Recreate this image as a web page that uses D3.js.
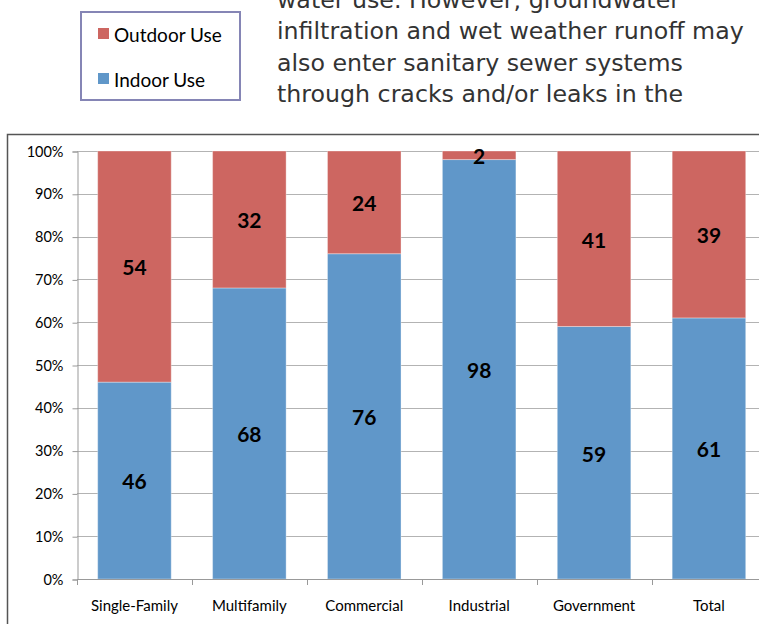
<!DOCTYPE html>
<meta charset="utf-8" />
<style>
  body { margin: 0; background: #fff; }
  svg { display: block; }
  .para { font-family: "DejaVu Sans", sans-serif; font-size: 23.7px; fill: #333; }
  .tick text { font-family: Lato, sans-serif; fill: #000; }
</style>
<body>
<script src="https://d3js.org/d3.v7.min.js"></script>
<script>

// data
var categories = ["Single-Family", "Multifamily", "Commercial", "Industrial", "Government", "Total"];
var indoor  = [46, 68, 76, 98, 59, 61];
var outdoor = [54, 32, 24, 2, 41, 39];
var yTicks  = [0, 10, 20, 30, 40, 50, 60, 70, 80, 90, 100];
var seriesNames = ["Outdoor Use", "Indoor Use"];
var paragraph = [
  "water use. However, groundwater",
  "infiltration and wet weather runoff may",
  "also enter sanitary sewer systems",
  "through cracks and/or leaks in the"
];

var W = 759, H = 624;
var colors = { indoor: "#6097c9", outdoor: "#cd6661" };

var svg = d3.select("body").append("svg")
    .attr("width", W)
    .attr("height", H);

// paragraph text above the chart (cut off at the top)
svg.append("g").selectAll("text")
    .data(paragraph)
    .enter().append("text")
    .attr("class", "para")
    .attr("x", 277)
    .attr("y", function(d, i) { return 8 + i * 31.3; })
    .text(function(d) { return d; });

// legend box
var legend = svg.append("g");
legend.append("rect")
    .attr("x", 81).attr("y", 12)
    .attr("width", 159).attr("height", 88)
    .attr("fill", "#fff")
    .attr("stroke", "#8585b5")
    .attr("stroke-width", 2);

var legendItems = legend.selectAll("g.item")
    .data(seriesNames)
    .enter().append("g")
    .attr("transform", function(d, i) { return "translate(98," + (28 + i * 45) + ")"; });
legendItems.append("rect")
    .attr("width", 11).attr("height", 11)
    .attr("fill", function(d, i) { return i == 0 ? colors.outdoor : colors.indoor; });
legendItems.append("text")
    .attr("x", 16).attr("y", 14)
    .style("font-family", "Lato, sans-serif")
    .style("font-size", "19px")
    .attr("fill", "#000")
    .text(function(d) { return d; });

// chart frame
svg.append("rect")
    .attr("x", 7.5).attr("y", 134.5)
    .attr("width", W + 20).attr("height", H)
    .attr("fill", "none")
    .attr("stroke", "#555")
    .attr("stroke-width", 1.5);

// scales
var plotLeft = 77, plotTop = 151, plotBottom = 579;
var step = 114.9;
var x = d3.scaleBand()
    .domain(categories)
    .range([plotLeft, plotLeft + step * categories.length])
    .paddingInner(0.36)
    .paddingOuter(0.18);
var y = d3.scaleLinear().domain([0, 100]).range([plotBottom, plotTop]);

// gridlines
svg.append("g").selectAll("line")
    .data(yTicks)
    .enter().append("line")
    .attr("x1", plotLeft).attr("x2", W)
    .attr("y1", function(d) { return Math.round(y(d)) + 0.5; })
    .attr("y2", function(d) { return Math.round(y(d)) + 0.5; })
    .attr("stroke", "#b3b3b3");

// y axis
var yAxis = svg.append("g")
    .attr("transform", "translate(" + (plotLeft + 0.5) + ",0.5)")
    .call(d3.axisLeft(y).tickValues(yTicks).tickSize(5).tickPadding(9)
        .tickFormat(function(d) { return d + "%"; }));
yAxis.selectAll("text").style("font-size", "14.5px");
yAxis.selectAll("line, path").attr("stroke", "#999");

// bars
var rows = categories.map(function(c, i) {
  return { cat: c, indoor: indoor[i], outdoor: outdoor[i] };
});
var stack = d3.stack().keys(["indoor", "outdoor"])(rows);

var layers = svg.append("g").selectAll("g")
    .data(stack)
    .enter().append("g")
    .attr("fill", function(d) { return colors[d.key]; });

layers.selectAll("rect")
    .data(function(d) { return d; })
    .enter().append("rect")
    .attr("x", function(d) { return x(d.data.cat); })
    .attr("width", x.bandwidth())
    .attr("y", function(d) { return y(d[1]); })
    .attr("height", function(d) { return y(d[0]) - y(d[1]); })
    .attr("stroke", "#fff")
    .attr("stroke-opacity", 0.35)
    .attr("stroke-width", 1);

// value labels
layers.selectAll("text")
    .data(function(d) { return d.map(function(p) { p.key = d.key; return p; }); })
    .enter().append("text")
    .attr("x", function(d) { return x(d.data.cat) + x.bandwidth() / 2; })
    .attr("y", function(d) { return (y(d[0]) + y(d[1])) / 2; })
    .attr("dy", "0.42em")
    .attr("text-anchor", "middle")
    .attr("fill", "#000")
    .style("font-family", "Lato, sans-serif")
    .style("font-weight", 700)
    .style("font-size", "21px")
    .text(function(d) { return d.data[d.key]; });

// x axis
var xAxis = svg.append("g")
    .attr("transform", "translate(0," + (plotBottom + 0.5) + ")")
    .call(d3.axisBottom(x).tickSize(0).tickPadding(21));
xAxis.select(".domain").attr("stroke", "#999").attr("d", "M" + plotLeft + ",0H" + W);
xAxis.selectAll("text").style("font-size", "15px");

// category separators on x axis
svg.append("g").selectAll("line")
    .data(d3.range(categories.length + 1))
    .enter().append("line")
    .attr("x1", function(i) { return Math.round(plotLeft + i * x.step()) + 0.5; })
    .attr("x2", function(i) { return Math.round(plotLeft + i * x.step()) + 0.5; })
    .attr("y1", plotBottom)
    .attr("y2", plotBottom + 6)
    .attr("stroke", "#999");

</script>
</body>
